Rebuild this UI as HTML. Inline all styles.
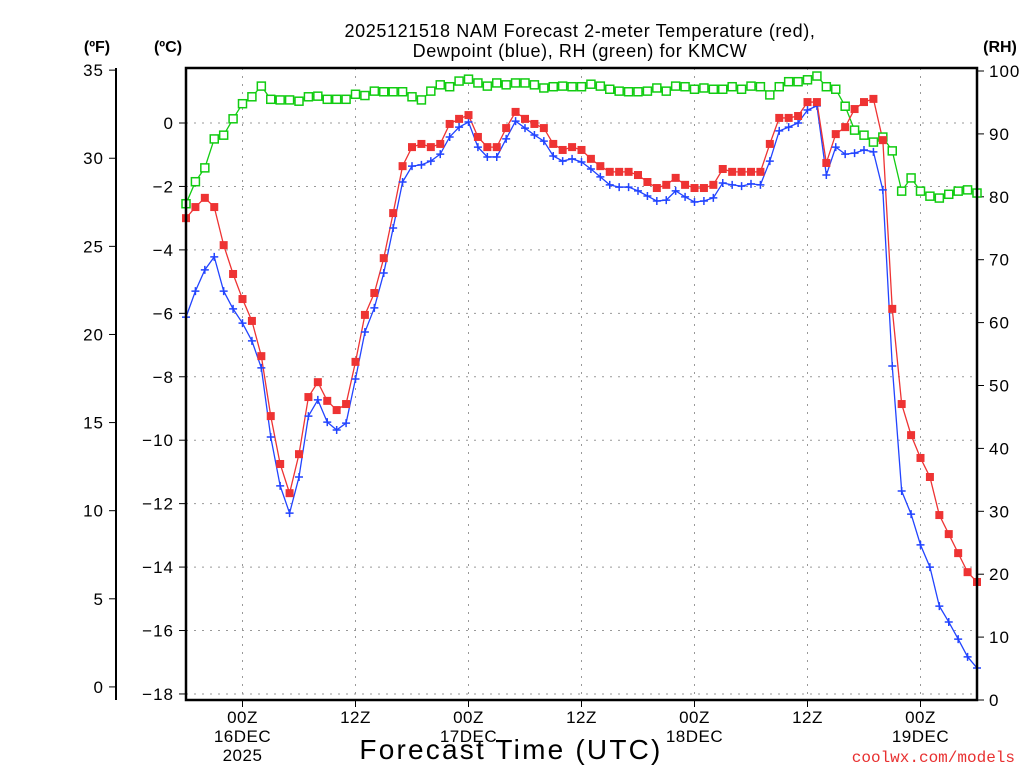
<!DOCTYPE html>
<html><head><meta charset="utf-8"><style>
body{margin:0;background:#fff;}
svg{display:block;font-family:"Liberation Sans",sans-serif;}
</style></head><body>
<svg id="chart" width="1024" height="768" viewBox="0 0 1024 768" xmlns="http://www.w3.org/2000/svg">
<rect width="1024" height="768" fill="#fff"/>
<text x="580" y="37" font-size="18" text-anchor="middle" letter-spacing="0.6">2025121518 NAM Forecast 2-meter Temperature (red),</text>
<text x="580" y="57" font-size="18" text-anchor="middle" letter-spacing="0.6">Dewpoint (blue), RH (green) for KMCW</text>
<text x="97" y="52" font-size="16" font-weight="bold" text-anchor="middle">(ºF)</text>
<text x="168" y="52" font-size="16" font-weight="bold" text-anchor="middle">(ºC)</text>
<text x="1000" y="52" font-size="16" font-weight="bold" text-anchor="middle">(RH)</text>
<g id="grid"></g>
<g id="axes"></g>
<g id="series"></g>
<rect x="186" y="68" width="791" height="632" fill="none" stroke="#000" stroke-width="2.5"/>
<text x="511" y="759" font-size="28" text-anchor="middle" letter-spacing="2.2">Forecast Time (UTC)</text>
<text x="1015" y="762" font-size="16" fill="#e83030" text-anchor="end" font-family="Liberation Mono, monospace">coolwx.com/models</text>
</svg>
<script>
const tempC=[-3.0,-2.65,-2.36,-2.65,-3.85,-4.76,-5.55,-6.24,-7.35,-9.24,-10.75,-11.67,-10.44,-8.64,-8.17,-8.76,-9.05,-8.86,-7.53,-6.05,-5.36,-4.26,-2.84,-1.36,-0.76,-0.66,-0.76,-0.66,-0.03,0.13,0.25,-0.44,-0.76,-0.76,-0.16,0.35,0.13,-0.03,-0.16,-0.66,-0.85,-0.76,-0.85,-1.13,-1.36,-1.54,-1.54,-1.54,-1.64,-1.86,-2.05,-1.95,-1.73,-1.95,-2.05,-2.05,-1.95,-1.45,-1.54,-1.54,-1.54,-1.54,-0.66,0.16,0.16,0.22,0.66,0.66,-1.26,-0.35,-0.13,0.44,0.66,0.76,-0.54,-5.86,-8.86,-9.84,-10.56,-11.16,-12.36,-12.96,-13.56,-14.16,-14.47];
const dewC=[-6.12,-5.30,-4.63,-4.22,-5.30,-5.86,-6.31,-6.87,-7.72,-9.90,-11.44,-12.30,-11.16,-9.24,-8.73,-9.43,-9.68,-9.46,-8.07,-6.59,-5.83,-4.73,-3.31,-1.86,-1.36,-1.32,-1.20,-0.98,-0.44,-0.13,0.03,-0.76,-1.07,-1.07,-0.50,0.06,-0.16,-0.38,-0.57,-1.04,-1.20,-1.13,-1.23,-1.45,-1.70,-1.95,-2.02,-2.02,-2.14,-2.30,-2.46,-2.43,-2.14,-2.33,-2.49,-2.46,-2.36,-1.89,-1.95,-1.99,-1.92,-1.95,-1.20,-0.25,-0.13,0.0,0.41,0.54,-1.64,-0.76,-0.98,-0.95,-0.85,-0.91,-2.11,-7.66,-11.60,-12.33,-13.30,-14.00,-15.23,-15.73,-16.27,-16.83,-17.18];
const rh=[78.9,82.4,84.6,89.2,89.8,92.4,94.8,95.9,97.6,95.5,95.4,95.4,95.2,95.9,96.0,95.5,95.5,95.5,96.3,96.1,96.8,96.7,96.7,96.7,95.9,95.4,96.8,97.8,97.5,98.4,98.7,98.1,97.6,98.1,97.8,98.1,98.1,97.8,97.3,97.5,97.6,97.5,97.5,97.9,97.6,97.1,96.8,96.7,96.7,96.8,97.3,96.8,97.6,97.5,97.1,97.3,97.1,97.1,97.5,97.1,97.6,97.5,96.2,97.5,98.3,98.3,98.6,99.2,97.5,97.1,94.4,90.6,89.8,88.7,89.5,87.3,80.9,83.0,80.9,80.1,79.8,80.4,80.9,81.1,80.6];
const cTicks=[0,-2,-4,-6,-8,-10,-12,-14,-16,-18];
const fTicks=[35,30,25,20,15,10,5,0];
const rhTicks=[100,90,80,70,60,50,40,30,20,10,0];
const timeTickHours=[6,18,30,42,54,66,78];
const timeTickLabels=[["00Z","16DEC","2025"],["12Z"],["00Z","17DEC"],["12Z"],["00Z","18DEC"],["12Z"],["00Z","19DEC"]];

const NS="http://www.w3.org/2000/svg";
const X0=186,X1=977,Y0=68,Y1=700;
const xH=h=>X0+h*(X1-X0)/84;
const yC=c=>123-c*31.72;
const yF=f=>yC((f-32)*5/9);
const yRH=r=>700-r*6.29;
function mk(tag,attrs,parent,txt){const e=document.createElementNS(NS,tag);for(const k in attrs)e.setAttribute(k,attrs[k]);if(txt!==undefined)e.textContent=txt;parent.appendChild(e);return e;}
const grid=document.getElementById('grid'),axes=document.getElementById('axes'),ser=document.getElementById('series');
cTicks.forEach(c=>{const y=yC(c);
 const g=mk('line',{x1:X0,x2:X1,y1:y,y2:y,stroke:'#999','stroke-width':1,'stroke-dasharray':'2,6'},grid);
 
 
 const t=mk('line',{x1:X0-7,x2:X0,y1:y,y2:y,stroke:'#000','stroke-width':1},axes);
 
 
 const l=mk('text',{x:X0-12,y:y+6,'font-size':17,'text-anchor':'end','letter-spacing':1},axes,c<0?'\u2212'+(-c):String(c));
 
 
});
const fl=mk('line',{x1:116,x2:116,y1:Y0,y2:Y1,stroke:'#000','stroke-width':2},axes);


fTicks.forEach(f=>{const y=yF(f);
 const t=mk('line',{x1:109,x2:116,y1:y,y2:y,stroke:'#000','stroke-width':1},axes);
 
 
 const l=mk('text',{x:104,y:y+6,'font-size':17,'text-anchor':'end','letter-spacing':1},axes,String(f));
 
 
});
rhTicks.forEach(r=>{const y=yRH(r);
 const t=mk('line',{x1:X1,x2:X1+7,y1:y,y2:y,stroke:'#000','stroke-width':1},axes);
 
 
 const l=mk('text',{x:X1+12,y:y+6,'font-size':17,'letter-spacing':1},axes,String(r));
 
 
});
timeTickHours.forEach((h,i)=>{const x=xH(h);
 const g=mk('line',{x1:x,x2:x,y1:Y0,y2:Y1,stroke:'#999','stroke-width':1,'stroke-dasharray':'2,6'},grid);
 
 
 const t=mk('line',{x1:x,x2:x,y1:Y1,y2:Y1+7,stroke:'#000','stroke-width':1},axes);
 
 
 timeTickLabels[i].forEach((s,j)=>{
  const l=mk('text',{x:x,y:723+j*19,'font-size':17,'text-anchor':'middle','letter-spacing':0.5},axes,s);
  
  
 });
});
function line(vals,yf,color,name){
 const p=mk('polyline',{points:vals.map((v,i)=>xH(i)+','+yf(v)).join(' '),fill:'none',stroke:color,'stroke-width':1.3},ser);
 
 
}
line(rh,yRH,'#11cc11','rh-line');
line(dewC,yC,'#2244ff','dewpoint-line');
line(tempC,yC,'#ee3333','temperature-line');
rh.forEach((v,i)=>{const m=mk('rect',{x:xH(i)-4,y:yRH(v)-4,width:8,height:8,fill:'#fff',stroke:'#11cc11','stroke-width':1.5},ser);
 
 });
dewC.forEach((v,i)=>{const x=xH(i),y=yC(v);const m=mk('path',{d:`M${x-4},${y}H${x+4}M${x},${y-4}V${y+4}`,stroke:'#2244ff','stroke-width':1.5},ser);
 
 });
tempC.forEach((v,i)=>{const m=mk('rect',{x:xH(i)-4,y:yC(v)-4,width:8,height:8,fill:'#ee3333'},ser);
 
 });
</script>
</body></html>
